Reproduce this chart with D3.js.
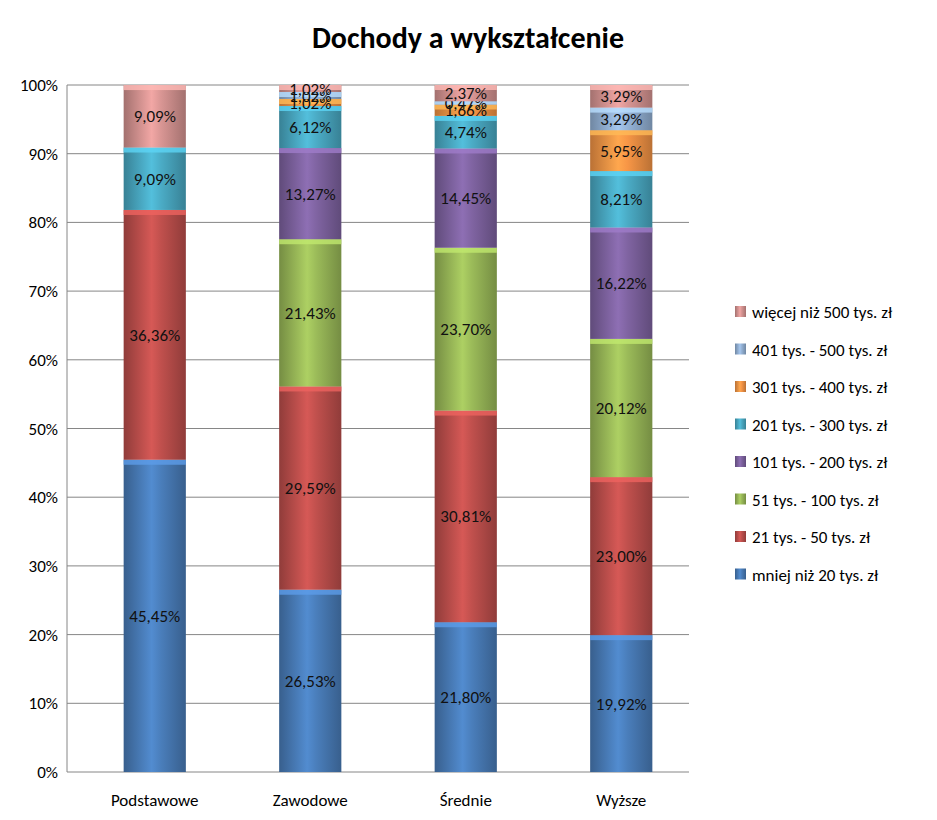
<!DOCTYPE html><html><head><meta charset="utf-8"><script src="https://cdn.jsdelivr.net/npm/d3@7"></script>
<style>body{margin:0;background:#fff;font-family:Calibri,Carlito,"Liberation Sans",sans-serif}</style></head><body><svg id="c" width="937" height="820"></svg>
<script>
const categories=["Podstawowe","Zawodowe","Średnie","Wyższe"];
const seriesNames=["mniej niż 20 tys. zł","21 tys. - 50 tys. zł","51 tys. - 100 tys. zł","101 tys. - 200 tys. zł","201 tys. - 300 tys. zł","301 tys. - 400 tys. zł","401 tys. - 500 tys. zł","więcej niż 500 tys. zł"];
const s1=[45.45,26.53,21.80,19.92];
const s2=[36.36,29.59,30.81,23.00];
const s3=[0,21.43,23.70,20.12];
const s4=[0,13.27,14.45,16.22];
const s5=[9.09,6.12,4.74,8.21];
const s6=[0,1.02,1.66,5.95];
const s7=[0,1.02,0.47,3.29];
const s8=[9.09,1.02,2.37,3.29];
const colors=["#4a7ebb","#c0504d","#9bbb59","#8064a2","#4bacc6","#f79646","#95b3d7","#d99694"];
const yTicks=[0,10,20,30,40,50,60,70,80,90,100];
const S=[s1,s2,s3,s4,s5,s6,s7,s8];
const svg=d3.select("#c");
const x=d3.scaleBand().domain(categories).range([77,699]).paddingInner(0.6).paddingOuter(0.3);
const y=d3.scaleLinear().domain([0,100]).range([772,85]);
const defs=svg.append("defs");
colors.forEach((c,i)=>{const g=defs.append("linearGradient").attr("id","g"+i);
 const d=d3.color(c).darker(0.8),l=d3.color(c).brighter(0.3);
 [[0,d],[0.45,l],[0.6,c],[1,d]].forEach(([o,cc])=>g.append("stop").attr("offset",o).attr("stop-color",cc));});
svg.append("text").attr("x",468).attr("y",48).attr("text-anchor","middle").attr("font-size",30).attr("font-weight","bold").text("Dochody a wykształcenie");
svg.append("g").selectAll("line").data(yTicks).join("line").attr("x1",67).attr("x2",689).attr("y1",d=>y(d)).attr("y2",d=>y(d)).attr("stroke","#868686");
svg.append("line").attr("x1",67).attr("x2",67).attr("y1",85).attr("y2",772).attr("stroke","#868686");
svg.append("g").selectAll("text").data(yTicks).join("text").attr("x",58).attr("y",d=>y(d)+6).attr("text-anchor","end").attr("font-size",17).text(d=>d+"%");
svg.append("g").selectAll("text").data(categories).join("text").attr("x",d=>x(d)+x.bandwidth()/2).attr("y",806).attr("text-anchor","middle").attr("font-size",17).text(d=>d);
categories.forEach((c,ci)=>{let acc=0;S.forEach((s,si)=>{const v=s[ci];if(v<=0)return;const y0=acc,y1=acc+v;acc=y1;
 svg.append("rect").attr("x",x(c)).attr("width",x.bandwidth()).attr("y",y(y1)).attr("height",y(y0)-y(y1)).attr("fill",`url(#g${si})`);
 svg.append("rect").attr("x",x(c)).attr("width",x.bandwidth()).attr("y",y(y1)).attr("height",Math.min(5,y(y0)-y(y1))).attr("fill",d3.color(colors[si]).brighter(0.6)).attr("opacity",0.8);
 svg.append("text").attr("x",x(c)+x.bandwidth()/2).attr("y",y((y0+y1)/2)+6).attr("text-anchor","middle").attr("font-size",17).attr("fill","#111").text(v.toFixed(2).replace(".",",")+"%");});});
const lg=svg.append("g");
seriesNames.slice().reverse().forEach((n,i)=>{const si=7-i,yy=312+i*37.5;
 lg.append("rect").attr("x",735).attr("y",yy-6).attr("width",11).attr("height",11).attr("fill",`url(#g${si})`);
 lg.append("text").attr("x",752).attr("y",yy+6).attr("font-size",17).text(n);});
</script></body></html>
